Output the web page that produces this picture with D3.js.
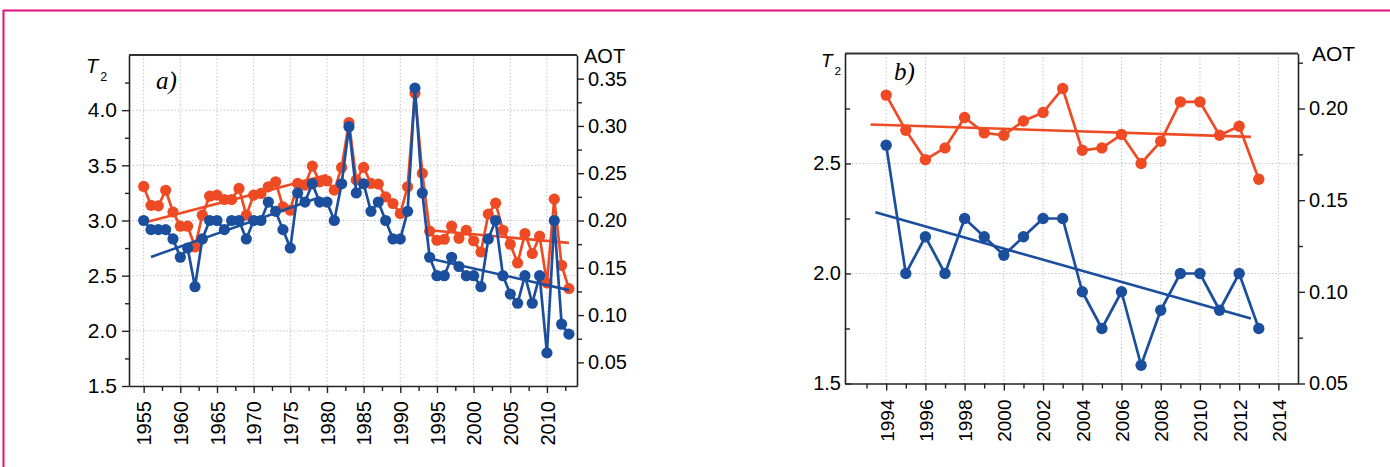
<!DOCTYPE html>
<html><head><meta charset="utf-8">
<script src="https://cdn.jsdelivr.net/npm/d3@7"></script>
<style>
body{margin:0;background:#fff}
svg{display:block}
text{font-family:"Liberation Sans",Arial,sans-serif}
</style>
</head><body>
<svg id="c" width="1390" height="467"></svg>
<script>
// ---------- DATA ----------
const yearsA = [1955,1956,1957,1958,1959,1960,1961,1962,1963,1964,1965,1966,1967,1968,1969,1970,1971,1972,1973,1974,1975,1976,1977,1978,1979,1980,1981,1982,1983,1984,1985,1986,1987,1988,1989,1990,1991,1992,1993,1994,1995,1996,1997,1998,1999,2000,2001,2002,2003,2004,2005,2006,2007,2008,2009,2010,2011,2012,2013];
const t2A = [3.0,2.917,2.917,2.917,2.833,2.667,2.75,2.4,2.833,3.0,3.0,2.917,3.0,3.0,2.833,3.0,3.0,3.167,3.083,2.917,2.75,3.25,3.167,3.333,3.167,3.167,3.0,3.333,3.85,3.25,3.333,3.083,3.167,3.0,2.833,2.833,3.083,4.2,3.25,2.667,2.5,2.5,2.667,2.583,2.5,2.5,2.4,2.833,3.0,2.5,2.333,2.25,2.5,2.25,2.5,1.8,3.0,2.06,1.97];
const aotA = [0.236,0.216,0.2155,0.232,0.209,0.194,0.194,0.172,0.2056,0.2257,0.2268,0.2222,0.2222,0.2339,0.2056,0.2268,0.2286,0.2356,0.2409,0.2144,0.2109,0.2392,0.2374,0.2575,0.2409,0.242,0.2321,0.2561,0.3034,0.2427,0.2561,0.2392,0.2385,0.225,0.218,0.2074,0.2356,0.3345,0.2498,0.1887,0.1791,0.1802,0.194,0.1812,0.1897,0.1785,0.1667,0.2067,0.2183,0.1897,0.1749,0.1551,0.1862,0.165,0.1834,0.1339,0.2226,0.1526,0.128];
// trend segments: [startYear, startValue, endYear, endValue]
const trendT2A = [[1956,2.67,1979,3.21],[1994,2.656,2013,2.369]];
const trendAotA = [[1955,0.1975,1980,0.248],[1994,0.1897,2013,0.1763]];

const yearsB = [1994,1995,1996,1997,1998,1999,2000,2001,2002,2003,2004,2005,2006,2007,2008,2009,2010,2011,2012,2013];
const t2B = [2.583,2.0,2.167,2.0,2.25,2.167,2.083,2.167,2.25,2.25,1.917,1.75,1.917,1.583,1.833,2.0,2.0,1.833,2.0,1.75];
const aotB = [0.2073,0.1881,0.1721,0.1785,0.1951,0.1867,0.1854,0.1932,0.1978,0.2109,0.1772,0.1785,0.1858,0.170,0.1821,0.2036,0.2036,0.1854,0.1903,0.1614];
const trendT2B = [[1993.45,2.278,2012.6,1.796]];
const trendAotB = [[1993.2,0.1913,2012.6,0.1845]];

// tick labels
const xMajorA = [1955,1960,1965,1970,1975,1980,1985,1990,1995,2000,2005,2010];
const xMinorA = [1957.5,1962.5,1967.5,1972.5,1977.5,1982.5,1987.5,1992.5,1997.5,2002.5,2007.5,2012.5];
const yLMajorA = [1.5,2.0,2.5,3.0,3.5,4.0];
const yLMinorA = [1.75,2.25,2.75,3.25,3.75,4.25];
const yRMajorA = [0.05,0.10,0.15,0.20,0.25,0.30,0.35];
const yRMinorA = [0.075,0.125,0.175,0.225,0.275,0.325];

const xMajorB = [1994,1996,1998,2000,2002,2004,2006,2008,2010,2012,2014];
const xMinorB = [1993,1995,1997,1999,2001,2003,2005,2007,2009,2011,2013];
const yLMajorB = [1.5,2.0,2.5];
const yLMinorB = [1.75,2.25,2.75];
const yRMajorB = [0.05,0.10,0.15,0.20];
const yRMinorB = [0.075,0.125,0.175,0.225];

// ---------- STYLE ----------
const RED = "#ee4b24", BLUE = "#1b4f9e";
const svg = d3.select("#c");
svg.append("rect").attr("x",3.5).attr("y",10.5).attr("width",1400).attr("height",500)
  .attr("fill","none").attr("stroke","#e0117c").attr("stroke-width",2);

function drawPanel(p){
  const x = d3.scaleLinear().domain(p.xDom).range([p.left,p.right]);
  const yL = d3.scaleLinear().domain(p.yLDom).range([p.bottom,p.top]);
  const yR = d3.scaleLinear().domain(p.yRDom).range([p.bottom,p.top]);
  const g = svg.append("g");

  // grid
  g.append("g").selectAll("line").data(p.xMajor).join("line")
    .attr("x1",d=>x(d)).attr("x2",d=>x(d)).attr("y1",p.top).attr("y2",p.bottom)
    .attr("stroke","#c4c4c4").attr("stroke-width",1).attr("stroke-dasharray","1.5,2");
  g.append("g").selectAll("line").data(p.yLMajor.filter(v=>v>p.yLDom[0])).join("line")
    .attr("x1",p.left).attr("x2",p.right).attr("y1",d=>yL(d)).attr("y2",d=>yL(d))
    .attr("stroke","#c4c4c4").attr("stroke-width",1).attr("stroke-dasharray","1.5,2");

  // top frame
  g.append("line").attr("x1",p.left).attr("x2",p.right).attr("y1",p.top).attr("y2",p.top)
    .attr("stroke","#333").attr("stroke-width",2);

  const fnt = sel => sel.selectAll("text").style("font-family",'"Liberation Sans",Arial,sans-serif').attr("fill","#000");

  // bottom axis
  const bx = g.append("g").attr("transform",`translate(0,${p.bottom})`)
    .call(d3.axisBottom(x).tickValues(p.xMajor).tickSize(7).tickSizeOuter(0).tickFormat(d3.format("d")));
  bx.selectAll("text").attr("transform","rotate(-90)").attr("x",-p.xLabGap).attr("y",0)
    .attr("dy","0.36em").style("text-anchor","end").style("font-size",p.xFont+"px");
  g.append("g").attr("transform",`translate(0,${p.bottom})`)
    .call(d3.axisBottom(x).tickValues(p.xMinor).tickSize(5).tickFormat(""))
    .call(s=>s.select(".domain").remove());

  // left axis
  const lx = g.append("g").attr("transform",`translate(${p.left},0)`)
    .call(d3.axisLeft(yL).tickValues(p.yLMajor).tickSize(p.leftTick).tickPadding(p.leftPad).tickSizeOuter(0).tickFormat(d3.format(".1f")));
  lx.selectAll("text").style("font-size",p.yFont+"px");
  g.append("g").attr("transform",`translate(${p.left},0)`)
    .call(d3.axisLeft(yL).tickValues(p.yLMinor).tickSize(p.leftTick>0?4:-5).tickFormat(""))
    .call(s=>s.select(".domain").remove());

  // right axis
  const rx = g.append("g").attr("transform",`translate(${p.right},0)`)
    .call(d3.axisRight(yR).tickValues(p.yRMajor).tickSize(7).tickPadding(p.rightPad).tickSizeOuter(0).tickFormat(d3.format(".2f")));
  rx.selectAll("text").style("font-size",p.rFont+"px");
  g.append("g").attr("transform",`translate(${p.right},0)`)
    .call(d3.axisRight(yR).tickValues(p.yRMinor).tickSize(5).tickFormat(""))
    .call(s=>s.select(".domain").remove());

  [bx,lx,rx].forEach(fnt);
  g.selectAll(".domain").attr("stroke","#222").attr("stroke-width",1.6);
  g.selectAll(".tick line").attr("stroke","#222").attr("stroke-width",1.4);

  // trend lines
  const segs = (arr,y,col)=> g.append("g").selectAll("line").data(arr).join("line")
    .attr("x1",d=>x(d[0])).attr("y1",d=>y(d[1])).attr("x2",d=>x(d[2])).attr("y2",d=>y(d[3]))
    .attr("stroke",col).attr("stroke-width",2.6);

  const series = (years,vals,y,col)=>{
    const data = years.map((yr,i)=>({yr, v:vals[i]}));
    g.append("path").datum(data)
      .attr("d",d3.line().x(d=>x(d.yr)).y(d=>y(d.v)))
      .attr("fill","none").attr("stroke",col).attr("stroke-width",2.7).attr("stroke-linejoin","round");
    g.append("g").selectAll("circle").data(data).join("circle")
      .attr("cx",d=>x(d.yr)).attr("cy",d=>y(d.v)).attr("r",p.r).attr("fill",col);
  };
  series(p.years,p.aot,yR,RED);
  segs(p.trendAot,yR,RED);
  series(p.years,p.t2,yL,BLUE);
  segs(p.trendT2,yL,BLUE);

  // labels
  const t = g.append("text").attr("x",p.t2x).attr("y",p.t2y).style("font-size",p.t2Font+"px").attr("fill","#000");
  t.append("tspan").text("T").style("font-style","italic");
  t.append("tspan").text("2").attr("dx",2).attr("dy",p.t2Font*0.42).style("font-size",(p.t2Font*0.62)+"px");
  g.append("text").attr("x",p.aotx).attr("y",p.aoty).text("AOT").style("font-size",p.aotFont+"px").attr("fill","#000");
  g.append("text").attr("x",p.labx).attr("y",p.laby).text(p.lab)
    .style("font-family",'"Liberation Serif","Times New Roman",serif').style("font-style","italic")
    .style("font-size","25px").attr("fill","#000");
}

drawPanel({
  left:129, right:577, top:55, bottom:386,
  xDom:[1953,2014.1], yLDom:[1.5,4.5], yRDom:[0.025,0.375],
  xMajor:xMajorA, xMinor:xMinorA, yLMajor:yLMajorA, yLMinor:yLMinorA, yRMajor:yRMajorA, yRMinor:yRMinorA,
  leftTick:7, leftPad:5, rightPad:4, xLabGap:15, xFont:20, yFont:21, rFont:20,
  years:yearsA, t2:t2A, aot:aotA, trendT2:trendT2A, trendAot:trendAotA, r:5.6,
  t2x:86, t2y:73, t2Font:20, aotx:584, aoty:63, aotFont:20, labx:156, laby:89, lab:"a)"
});
drawPanel({
  left:845, right:1298, top:53.5, bottom:383.5,
  xDom:[1991.9,2015], yLDom:[1.5,3.0], yRDom:[0.05,0.23],
  xMajor:xMajorB, xMinor:xMinorB, yLMajor:yLMajorB, yLMinor:yLMinorB, yRMajor:yRMajorB, yRMinor:yRMinorB,
  leftTick:-6, leftPad:4, rightPad:4, xLabGap:16, xFont:19, yFont:20, rFont:20,
  years:yearsB, t2:t2B, aot:aotB, trendT2:trendT2B, trendAot:trendAotB, r:5.7,
  t2x:821, t2y:67, t2Font:19, aotx:1312, aoty:61, aotFont:21, labx:894, laby:80, lab:"b)"
});
</script>
</body></html>
